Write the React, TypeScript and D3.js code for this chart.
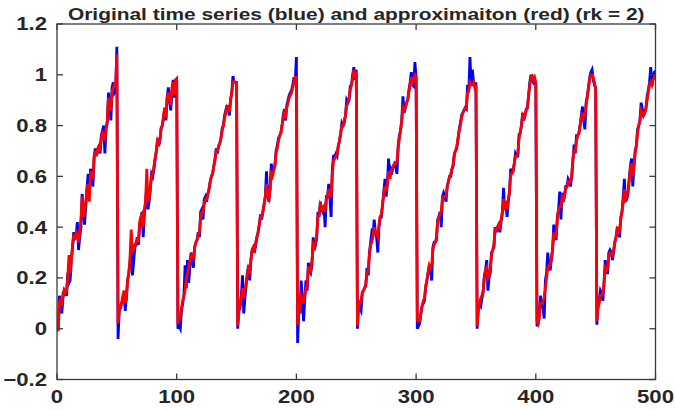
import React from "react";
import * as d3 from "d3";

const titleText = "Original time series (blue) and approximaiton (red) (rk = 2)";
const xTicks = [0, 100, 200, 300, 400, 500];
const yTicks = [-0.2, 0, 0.2, 0.4, 0.6, 0.8, 1, 1.2];

// original time series (blue), samples 1..500
const blueSeries = [
  0.00, 0.13, 0.10, 0.06, 0.12, 0.15, 0.14, 0.13, 0.22, 0.18, 0.19, 0.27, 0.32, 0.38, 0.36, 0.37, 0.42, 0.31, 0.36, 0.40,
  0.53, 0.47, 0.41, 0.48, 0.55, 0.61, 0.53, 0.63, 0.61, 0.56, 0.67, 0.71, 0.68, 0.70, 0.72, 0.69, 0.76, 0.78, 0.80, 0.69,
  0.79, 0.81, 0.93, 0.87, 0.82, 0.95, 0.97, 0.93, 0.94, 1.11,
  -0.04, 0.07, 0.08, 0.10, 0.12, 0.14, 0.07, 0.12, 0.19, 0.22, 0.26, 0.33, 0.21, 0.26, 0.32, 0.33, 0.36, 0.33, 0.40, 0.43,
  0.46, 0.36, 0.45, 0.50, 0.56, 0.47, 0.50, 0.55, 0.61, 0.60, 0.63, 0.67, 0.70, 0.75, 0.72, 0.74, 0.79, 0.80, 0.83, 0.87,
  0.82, 0.91, 0.95, 0.90, 0.86, 0.92, 0.98, 0.91, 0.96, 0.98,
  0.00, 0.01, 0.00, 0.07, 0.10, 0.13, 0.25, 0.16, 0.27, 0.18, 0.24, 0.30, 0.28, 0.24, 0.32, 0.34, 0.35, 0.38, 0.36, 0.46,
  0.47, 0.43, 0.51, 0.52, 0.50, 0.53, 0.55, 0.58, 0.60, 0.61, 0.64, 0.67, 0.71, 0.69, 0.72, 0.73, 0.75, 0.79, 0.80, 0.84,
  0.86, 0.88, 0.86, 0.84, 0.90, 0.93, 0.995, 0.97, 0.97, 0.97,
  0.00, 0.10, 0.09, 0.13, 0.21, 0.06, 0.12, 0.17, 0.22, 0.25, 0.19, 0.27, 0.31, 0.32, 0.30, 0.33, 0.36, 0.38, 0.41, 0.45,
  0.43, 0.46, 0.49, 0.52, 0.62, 0.53, 0.50, 0.55, 0.65, 0.61, 0.63, 0.64, 0.70, 0.72, 0.75, 0.76, 0.77, 0.80, 0.84, 0.865,
  0.82, 0.88, 0.90, 0.92, 0.93, 0.94, 0.96, 0.99, 0.97, 1.07,
  -0.056, 0.07, 0.06, 0.19, 0.11, 0.03, 0.12, 0.19, 0.15, 0.26, 0.23, 0.22, 0.25, 0.36, 0.31, 0.33, 0.36, 0.46, 0.44, 0.50,
  0.47, 0.46, 0.48, 0.40, 0.52, 0.52, 0.57, 0.51, 0.44, 0.63, 0.68, 0.68, 0.69, 0.68, 0.72, 0.74, 0.77, 0.81, 0.80, 0.81,
  0.84, 0.90, 0.89, 0.90, 0.955, 0.96, 1.00, 1.03, 0.98, 1.02,
  0.00, 0.11, 0.08, 0.07, 0.14, 0.15, 0.16, 0.17, 0.24, 0.21, 0.30, 0.34, 0.38, 0.37, 0.43, 0.38, 0.36, 0.30, 0.40, 0.44,
  0.44, 0.49, 0.54, 0.59, 0.52, 0.57, 0.67, 0.59, 0.63, 0.62, 0.64, 0.65, 0.64, 0.61, 0.72, 0.76, 0.78, 0.82, 0.915, 0.85,
  0.87, 0.89, 0.90, 0.94, 0.97, 1.01, 0.96, 0.955, 1.05, 0.99,
  0.00, 0.01, 0.02, 0.06, 0.09, 0.10, 0.11, 0.16, 0.19, 0.22, 0.25, 0.23, 0.19, 0.32, 0.34, 0.34, 0.35, 0.43, 0.44, 0.46,
  0.40, 0.52, 0.535, 0.52, 0.50, 0.56, 0.58, 0.60, 0.60, 0.63, 0.64, 0.69, 0.70, 0.71, 0.745, 0.785, 0.81, 0.84, 0.85, 0.86,
  0.87, 0.865, 0.96, 0.93, 1.07, 0.96, 1.02, 0.97, 0.96, 0.97,
  0.00, 0.09, 0.10, 0.09, 0.12, 0.14, 0.21, 0.23, 0.27, 0.15, 0.20, 0.22, 0.30, 0.31, 0.32, 0.40, 0.38, 0.40, 0.41, 0.38,
  0.42, 0.45, 0.555, 0.47, 0.50, 0.44, 0.50, 0.535, 0.63, 0.62, 0.62, 0.65, 0.69, 0.68, 0.68, 0.765, 0.77, 0.80, 0.85, 0.82,
  0.84, 0.865, 0.87, 0.92, 0.97, 1.00, 0.98, 0.97, 0.98, 0.96,
  0.01, 0.02, 0.06, 0.13, 0.09, 0.08, 0.04, 0.19, 0.22, 0.30, 0.25, 0.23, 0.27, 0.31, 0.41, 0.36, 0.35, 0.44, 0.47, 0.54,
  0.43, 0.535, 0.50, 0.52, 0.56, 0.56, 0.59, 0.58, 0.56, 0.60, 0.66, 0.725, 0.69, 0.76, 0.76, 0.77, 0.80, 0.84, 0.875, 0.82,
  0.785, 0.89, 0.915, 0.95, 0.99, 1.01, 1.02, 0.98, 0.96, 0.95,
  0.016, 0.10, 0.11, 0.15, 0.14, 0.11, 0.18, 0.27, 0.22, 0.22, 0.30, 0.31, 0.30, 0.27, 0.30, 0.34, 0.36, 0.40, 0.38, 0.36,
  0.44, 0.46, 0.52, 0.59, 0.50, 0.51, 0.53, 0.59, 0.64, 0.67, 0.56, 0.64, 0.70, 0.72, 0.785, 0.80, 0.82, 0.89, 0.865, 0.84,
  0.85, 0.865, 0.915, 0.94, 0.97, 1.03, 0.955, 0.99, 1.01, 1.015,
];

// rank-2 approximation (red), samples 1..500
const redSeries = [
  -0.01, 0.10, 0.12, 0.09, 0.14, 0.15, 0.14, 0.15, 0.20, 0.29, 0.22, 0.27, 0.33, 0.37, 0.35, 0.38, 0.37, 0.34, 0.38, 0.43,
  0.52, 0.44, 0.45, 0.49, 0.55, 0.57, 0.50, 0.62, 0.60, 0.59, 0.68, 0.70, 0.68, 0.71, 0.72, 0.70, 0.75, 0.77, 0.76, 0.74,
  0.79, 0.82, 0.91, 0.88, 0.86, 0.93, 0.95, 0.96, 0.95, 1.08,
  0.02, 0.07, 0.09, 0.10, 0.13, 0.15, 0.10, 0.13, 0.19, 0.22, 0.28, 0.39, 0.30, 0.31, 0.33, 0.34, 0.35, 0.34, 0.42, 0.44,
  0.45, 0.40, 0.47, 0.50, 0.63, 0.50, 0.51, 0.56, 0.60, 0.61, 0.64, 0.67, 0.70, 0.74, 0.73, 0.75, 0.79, 0.80, 0.84, 0.87,
  0.83, 0.91, 0.93, 0.90, 0.89, 0.95, 0.97, 0.92, 0.98, 0.985,
  0.02, 0.03, 0.05, 0.08, 0.11, 0.13, 0.15, 0.20, 0.22, 0.24, 0.27, 0.29, 0.29, 0.28, 0.32, 0.34, 0.35, 0.37, 0.38, 0.44,
  0.46, 0.46, 0.49, 0.51, 0.51, 0.53, 0.55, 0.58, 0.60, 0.61, 0.64, 0.66, 0.70, 0.70, 0.72, 0.73, 0.75, 0.78, 0.80, 0.83,
  0.85, 0.87, 0.86, 0.86, 0.90, 0.93, 0.97, 0.975, 0.97, 0.97,
  0.01, 0.07, 0.10, 0.12, 0.16, 0.12, 0.15, 0.18, 0.21, 0.24, 0.23, 0.27, 0.31, 0.32, 0.31, 0.34, 0.36, 0.38, 0.41, 0.44,
  0.44, 0.46, 0.49, 0.52, 0.57, 0.52, 0.51, 0.55, 0.61, 0.60, 0.62, 0.64, 0.69, 0.71, 0.74, 0.76, 0.77, 0.80, 0.83, 0.85,
  0.84, 0.87, 0.89, 0.91, 0.92, 0.93, 0.95, 0.97, 0.99, 0.99,
  0.016, 0.07, 0.07, 0.13, 0.12, 0.10, 0.13, 0.16, 0.17, 0.24, 0.24, 0.23, 0.27, 0.33, 0.32, 0.34, 0.37, 0.44, 0.45, 0.49,
  0.48, 0.47, 0.48, 0.46, 0.51, 0.52, 0.55, 0.53, 0.52, 0.61, 0.66, 0.67, 0.68, 0.69, 0.72, 0.74, 0.77, 0.80, 0.80, 0.82,
  0.84, 0.88, 0.89, 0.91, 0.94, 0.96, 0.985, 1.02, 1.00, 1.01,
  0.01, 0.09, 0.10, 0.11, 0.14, 0.15, 0.16, 0.18, 0.22, 0.23, 0.29, 0.33, 0.34, 0.37, 0.40, 0.38, 0.37, 0.36, 0.41, 0.44,
  0.45, 0.49, 0.53, 0.56, 0.54, 0.57, 0.62, 0.59, 0.62, 0.63, 0.64, 0.65, 0.65, 0.66, 0.71, 0.75, 0.78, 0.82, 0.87, 0.86,
  0.87, 0.89, 0.90, 0.93, 0.96, 0.99, 0.97, 0.98, 1.00, 0.995,
  0.035, 0.03, 0.03, 0.06, 0.09, 0.11, 0.12, 0.17, 0.19, 0.22, 0.25, 0.24, 0.25, 0.31, 0.33, 0.34, 0.36, 0.42, 0.44, 0.45,
  0.46, 0.51, 0.52, 0.52, 0.52, 0.56, 0.58, 0.60, 0.61, 0.63, 0.65, 0.69, 0.70, 0.72, 0.75, 0.78, 0.80, 0.83, 0.85, 0.86,
  0.87, 0.87, 0.93, 0.94, 0.97, 0.96, 0.96, 0.97, 0.95, 0.96,
  0.01, 0.07, 0.10, 0.12, 0.13, 0.15, 0.20, 0.23, 0.24, 0.20, 0.21, 0.24, 0.29, 0.31, 0.33, 0.39, 0.39, 0.40, 0.41, 0.40,
  0.43, 0.46, 0.51, 0.48, 0.49, 0.47, 0.51, 0.54, 0.61, 0.61, 0.62, 0.65, 0.68, 0.68, 0.69, 0.75, 0.77, 0.80, 0.84, 0.83,
  0.84, 0.86, 0.87, 0.92, 0.96, 0.99, 0.995, 0.98, 0.99, 0.97,
  0.03, 0.02, 0.05, 0.10, 0.10, 0.11, 0.12, 0.16, 0.20, 0.24, 0.25, 0.25, 0.28, 0.31, 0.38, 0.36, 0.37, 0.43, 0.47, 0.48,
  0.48, 0.52, 0.51, 0.53, 0.55, 0.56, 0.58, 0.58, 0.58, 0.60, 0.67, 0.70, 0.70, 0.74, 0.76, 0.77, 0.80, 0.83, 0.85, 0.83,
  0.84, 0.88, 0.91, 0.95, 0.98, 1.00, 1.00, 0.99, 0.97, 0.94,
  0.03, 0.08, 0.10, 0.13, 0.13, 0.14, 0.18, 0.24, 0.23, 0.24, 0.29, 0.30, 0.30, 0.29, 0.31, 0.34, 0.36, 0.39, 0.38, 0.39,
  0.43, 0.46, 0.50, 0.55, 0.51, 0.52, 0.54, 0.58, 0.63, 0.65, 0.60, 0.64, 0.69, 0.72, 0.77, 0.80, 0.82, 0.86, 0.85, 0.84,
  0.85, 0.87, 0.90, 0.93, 0.96, 0.97, 0.96, 0.98, 0.99, 1.00,
];

const W = 675;
const H = 410;
const M = { left: 57, right: 655.5, top: 24, bottom: 379.5 };
const FONT = "'Liberation Sans', Arial, Helvetica, sans-serif";
const TEXT = "#262626";
const AXIS = "#3a3a3a";
const STRETCH = 1.23;

export default function App() {
  const x = d3.scaleLinear().domain([0, 500]).range([M.left, M.right]);
  const y = d3.scaleLinear().domain([-0.2, 1.2]).range([M.bottom, M.top]);
  const line = d3
    .line<number>()
    .x((_, i) => x(i + 1))
    .y((d) => y(d));
  const tick = 6;

  return (
    <svg
      width={W}
      height={H}
      style={{ position: "absolute", left: 0, top: 0, background: "#fff" }}
    >
      <rect x={0} y={0} width={W} height={H} fill="#fff" />
      <defs>
        <clipPath id="plotClip">
          <rect x={M.left} y={M.top} width={M.right - M.left} height={M.bottom - M.top} />
        </clipPath>
      </defs>
      <g clipPath="url(#plotClip)">
        <path d={line(blueSeries) || ""} fill="none" stroke="#0000ff" strokeWidth={2.8} />
        <path d={line(redSeries) || ""} fill="none" stroke="#ff0000" strokeWidth={2.8} />
      </g>
      <rect
        x={M.left}
        y={M.top}
        width={M.right - M.left}
        height={M.bottom - M.top}
        fill="none"
        stroke={AXIS}
        strokeWidth={1.3}
      />
      {xTicks.map((t) => (
        <g key={"x" + t}>
          <line x1={x(t)} x2={x(t)} y1={M.bottom} y2={M.bottom - tick} stroke={AXIS} strokeWidth={1.3} />
          <line x1={x(t)} x2={x(t)} y1={M.top} y2={M.top + tick} stroke={AXIS} strokeWidth={1.3} />
          <text
            transform={`translate(${x(t)},403) scale(${STRETCH},1)`}
            textAnchor="middle"
            fontFamily={FONT}
            fontWeight="bold"
            fontSize={18}
            fill={TEXT}
          >
            {t}
          </text>
        </g>
      ))}
      {yTicks.map((t) => (
        <g key={"y" + t}>
          <line x1={M.left} x2={M.left + tick} y1={y(t)} y2={y(t)} stroke={AXIS} strokeWidth={1.3} />
          <line x1={M.right} x2={M.right - tick} y1={y(t)} y2={y(t)} stroke={AXIS} strokeWidth={1.3} />
          <text
            transform={`translate(47,${y(t)}) scale(${STRETCH},1)`}
            dy="0.36em"
            textAnchor="end"
            fontFamily={FONT}
            fontWeight="bold"
            fontSize={18}
            fill={TEXT}
          >
            {d3.format("")(+t.toFixed(1))}
          </text>
        </g>
      ))}
      <text
        transform={`translate(${(M.left + M.right) / 2},20) scale(${STRETCH},1)`}
        textAnchor="middle"
        fontFamily={FONT}
        fontWeight="bold"
        fontSize={17}
        fill={TEXT}
      >
        {titleText}
      </text>
    </svg>
  );
}
